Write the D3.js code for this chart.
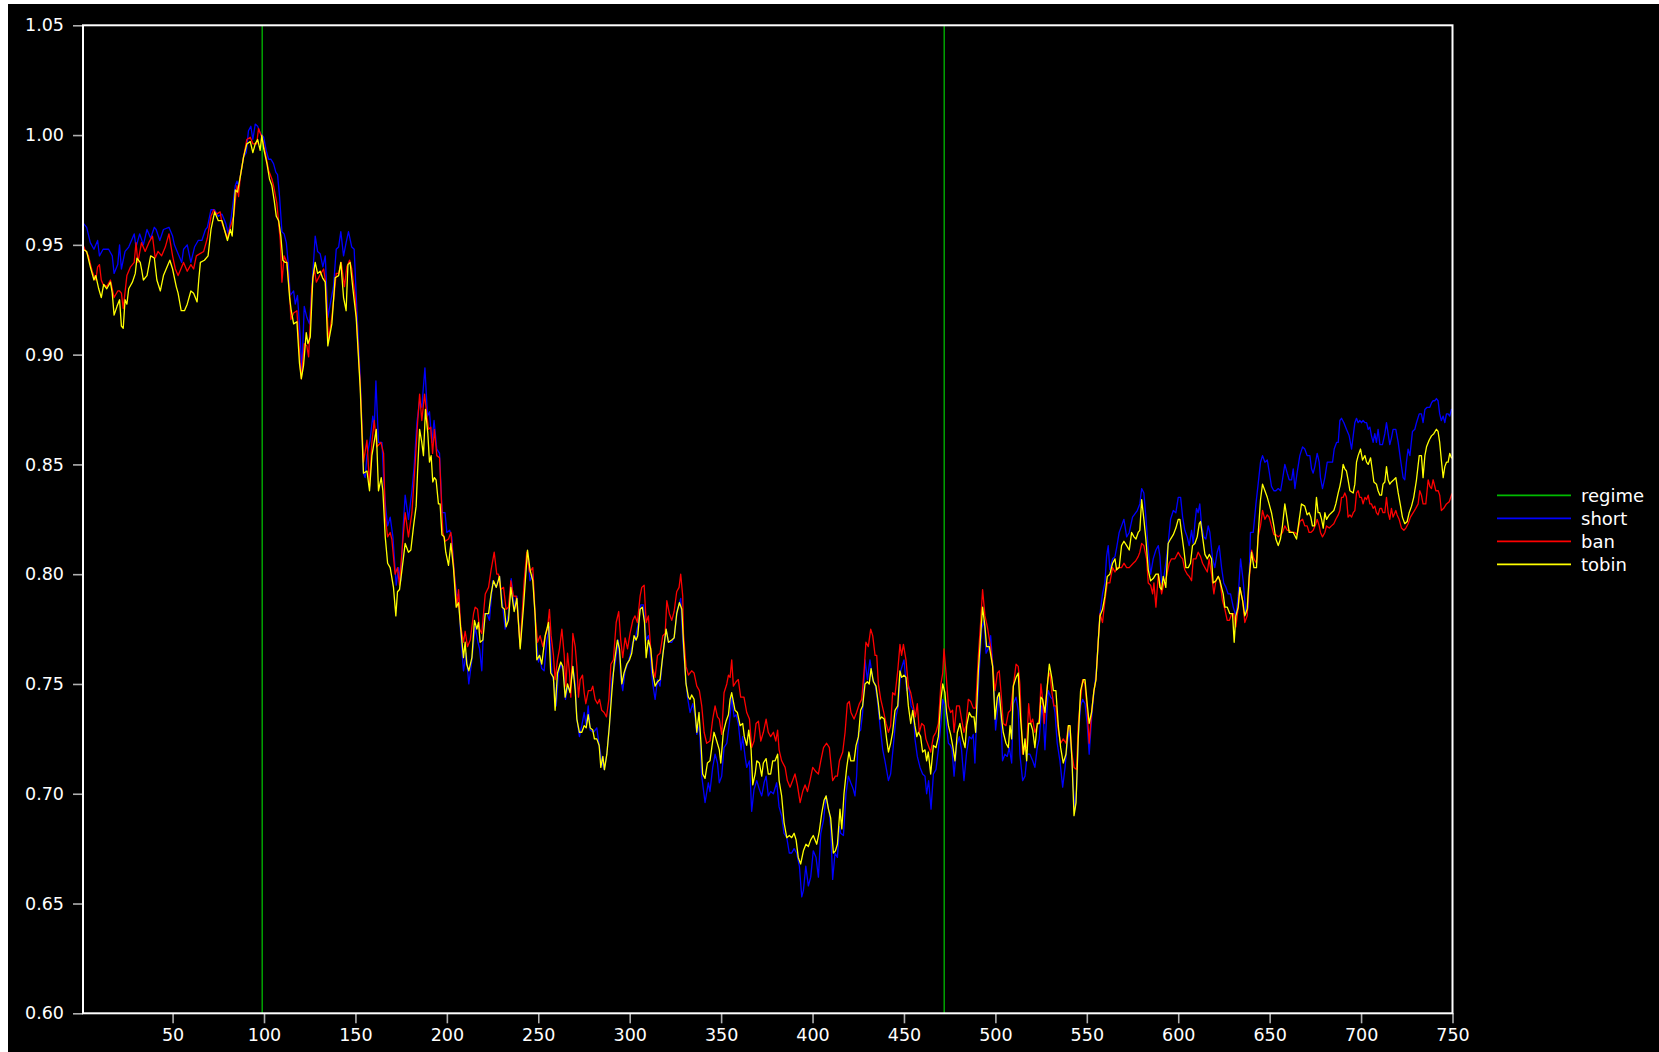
<!DOCTYPE html>
<html>
<head>
<meta charset="utf-8">
<script src="https://cdn.jsdelivr.net/npm/d3@7"></script>
<style>
  html, body { margin: 0; background: #fff; }
  svg { display: block; }
</style>
</head>
<body>
<svg id="chart" width="1659" height="1052"></svg>
<script>
// Regime switch points (time steps)
const regimeBreaks = [99, 472];

// Series: [time step, value]
const shortData = [[1,.960],[3,.958],[5,.951],[7,.948],[9,.952],[10,.945],[12,.948],[15,.948],[17,.945],[18,.937],[20,.941],[21,.950],[22,.939],[24,.947],[26,.949],[29,.955],[30,.949],[32,.955],[34,.950],[36,.957],[38,.953],[40,.958],[41,.957],[43,.952],[45,.957],[48,.958],[50,.954],[51,.950],[53,.946],[55,.942],[56,.948],[58,.950],[60,.942],[62,.949],[64,.952],[66,.952],[68,.957],[69,.958],[71,.966],[73,.966],[75,.963],[77,.964],[79,.960],[80.5,.955],[82,.962],[84.3,.977],[85.2,.979],[86.1,.977],[87,.981],[88.8,.990],[90.3,.992],[91.5,1.002],[92.8,1.004],[93.9,.998],[95.2,1.005],[96.5,1.004],[97.9,1.001],[99.8,.999],[101.2,.993],[102.5,.989],[103.8,.989],[105.2,.987],[106.5,.983],[107.4,.982],[108.5,.972],[109.8,.956],[111,.955],[112.2,.951],[113.4,.940],[114.3,.927],[116.2,.929],[117.1,.923],[118.3,.927],[119.8,.908],[120.7,.892],[122,.922],[123.4,.917],[124.9,.914],[126.2,.931],[128,.954],[129.3,.947],[130.7,.946],[132.2,.940],[133.5,.945],[134.9,.917],[136.2,.923],[138,.931],[139.5,.948],[140.8,.949],[142,.956],[143.5,.945],[144.9,.951],[146.2,.956],[148,.949],[149.3,.948],[150.8,.920],[152.6,.890],[154.4,.846],[155.3,.844],[156.3,.854],[158,.861],[159.5,.872],[160.3,.867],[161.2,.888],[162.6,.860],[164.5,.860],[165.4,.844],[166.3,.832],[167.6,.822],[169,.826],[170.5,.817],[172.3,.795],[173.6,.803],[174.8,.797],[176,.820],[177.2,.836],[179,.825],[180.9,.838],[182.1,.849],[183.6,.869],[185.1,.879],[186.3,.876],[188,.894],[189.4,.872],[190.5,.874],[191.8,.860],[193,.870],[194.5,.857],[196,.855],[197.4,.828],[199,.828],[200,.819],[201.5,.820],[202.7,.817],[204,.800],[205.5,.790],[206.4,.791],[207.3,.776],[209.1,.756],[210.6,.764],[212,.750],[213.7,.761],[215.5,.776],[217,.769],[217.9,.766],[219.1,.756],[220.4,.782],[222,.782],[223.3,.779],[225.1,.797],[227,.794],[228.8,.799],[230.6,.785],[231.9,.775],[233.7,.782],[235.2,.798],[237,.784],[238.3,.790],[240.1,.767],[242.3,.794],[244.1,.810],[245.5,.797],[247,.800],[248.8,.772],[250.1,.760],[250.7,.763],[251.9,.757],[253.2,.756],[254.7,.770],[256.1,.776],[257.4,.755],[258.7,.750],[259.8,.740],[261,.755],[262.3,.759],[263.8,.756],[264.9,.743],[266.1,.749],[267.4,.747],[268.9,.758],[270.2,.750],[271.1,.734],[272.5,.726],[273.8,.731],[275.1,.737],[276.2,.731],[277.3,.740],[278.4,.729],[280.2,.728],[282,.730],[283.3,.722],[284.7,.715],[286,.711],[287.5,.718],[288.9,.731],[290.2,.752],[292,.759],[293.8,.770],[295.1,.753],[296.2,.747],[297.5,.756],[298.8,.759],[300.2,.763],[301.7,.769],[302.9,.770],[304.8,.778],[306.1,.786],[307.5,.786],[309,.770],[310.2,.772],[311.5,.761],[312.6,.750],[313.9,.743],[315.2,.752],[316.6,.749],[318.1,.763],[319.9,.775],[321.2,.769],[323,.769],[324.3,.771],[326.1,.784],[327.9,.789],[329,.770],[330.3,.756],[331.6,.744],[333,.737],[334.5,.741],[335.8,.735],[336.7,.727],[338.1,.731],[339.4,.708],[341.2,.696],[343,.705],[343.9,.701],[345.4,.712],[346.7,.718],[348,.714],[349,.705],[350.3,.708],[351.6,.721],[353.1,.723],[354.5,.732],[355.8,.744],[357.1,.735],[358.2,.736],[359.4,.732],[360.9,.720],[361.8,.726],[363.1,.717],[364,.712],[365.5,.715],[366.7,.692],[368,.702],[369.5,.706],[370.9,.702],[372.2,.699],[373.5,.705],[374.6,.708],[375.8,.699],[377.1,.701],[378.6,.700],[380.4,.705],[381.7,.694],[383.1,.690],[384.4,.682],[385.9,.680],[387.3,.673],[388.6,.673],[389.9,.675],[391.3,.673],[392.8,.667],[394.1,.653],[395,.656],[396.3,.667],[397.7,.658],[399,.662],[400.4,.674],[401.9,.671],[403.2,.662],[404.5,.682],[406,.688],[407.4,.699],[409.2,.691],[409.9,.685],[411,.661],[412.3,.673],[413.6,.671],[414.7,.685],[415.4,.682],[416.9,.681],[418.3,.700],[419.6,.708],[420.9,.705],[422.3,.702],[423.2,.699],[424.1,.708],[425.1,.728],[426.3,.729],[427.4,.737],[428.7,.761],[430,.752],[431.4,.761],[432.9,.752],[434.2,.750],[435.4,.743],[436.9,.731],[438.4,.720],[439.6,.715],[441.5,.706],[442.7,.709],[444.2,.722],[445.6,.735],[446.9,.740],[448.2,.756],[449.3,.759],[450,.761],[451.5,.747],[452.6,.749],[453.9,.740],[455.1,.738],[456,.725],[457.3,.717],[458.8,.712],[460.2,.709],[461.5,.708],[462.4,.700],[463.5,.706],[464.8,.693],[466.1,.709],[467.5,.711],[468.8,.720],[470.2,.732],[471.2,.743],[472.4,.740],[473.3,.731],[474.3,.723],[475.5,.722],[476.3,.720],[477.4,.708],[478.8,.722],[480.3,.726],[481.5,.720],[482.8,.706],[484.3,.719],[485.7,.726],[487,.725],[487.9,.727],[488.8,.714],[489.8,.735],[491.2,.756],[492.5,.775],[493.8,.779],[494.9,.764],[496.1,.766],[497.4,.772],[498.9,.755],[500.1,.729],[501.1,.737],[502.1,.746],[503.1,.734],[503.9,.715],[505.2,.718],[506.5,.717],[507.6,.721],[508.9,.714],[509.8,.741],[511.3,.744],[512.5,.738],[513.4,.718],[514.9,.706],[516.2,.708],[517.4,.718],[518.9,.718],[520.4,.715],[521.6,.712],[522.9,.721],[524,.725],[525.3,.740],[526.2,.735],[527.1,.720],[528,.735],[528.9,.747],[530.2,.744],[531.3,.743],[532.6,.737],[533.8,.723],[535.3,.715],[536.8,.703],[538.1,.712],[539.3,.723],[540.4,.729],[541.7,.718],[542.6,.703],[543.5,.693],[544.4,.702],[545.5,.728],[546.6,.740],[547.7,.743],[549,.741],[550.2,.732],[551.3,.718],[552.6,.734],[553.9,.746],[555.4,.758],[556.3,.770],[557.2,.782],[558.6,.791],[559.9,.796],[560.8,.808],[561.7,.813],[562.6,.802],[564.1,.807],[565.4,.808],[566.3,.812],[567.7,.819],[569,.822],[570.3,.825],[571.8,.817],[573.2,.819],[575,.826],[577.6,.829],[579,.832],[580,.839],[581.2,.837],[582.3,.826],[583.6,.811],[584.9,.800],[586.3,.807],[587.8,.811],[589.1,.813],[590,.808],[590.9,.796],[592.2,.799],[593.2,.805],[594.5,.814],[595.8,.825],[597.3,.829],[598.7,.828],[600,.835],[601.3,.835],[602.4,.826],[603.6,.820],[604.9,.817],[606,.813],[607.3,.820],[608.2,.814],[609.1,.823],[610,.830],[610.9,.828],[611.8,.832],[612.8,.822],[614,.817],[615.1,.816],[616.4,.822],[617.3,.819],[618.8,.807],[620,.803],[621.3,.810],[622.4,.813],[623.7,.803],[624.9,.796],[626.1,.794],[627.3,.791],[628.6,.791],[630.1,.785],[631.5,.781],[632.8,.790],[634.1,.807],[635.5,.797],[637,.782],[638.3,.785],[639.5,.819],[641,.819],[642.5,.832],[643.7,.841],[645,.851],[646.1,.854],[647.4,.851],[648.7,.852],[649.7,.847],[651,.840],[652.3,.838],[653.4,.838],[654.7,.839],[656,.838],[657,.843],[658.3,.850],[659.6,.846],[660.7,.843],[662,.843],[662.9,.848],[663.8,.839],[665,.846],[666.5,.854],[668,.858],[669.2,.857],[670.5,.854],[672,.854],[672.9,.848],[673.8,.846],[674.7,.849],[676,.855],[677.1,.851],[677.8,.844],[678.9,.839],[680.2,.844],[681.5,.851],[682.9,.851],[684.4,.851],[685.3,.857],[686.6,.860],[687.5,.860],[688.4,.870],[689.3,.871],[690.6,.869],[692,.866],[693.5,.863],[694.8,.857],[695.7,.863],[696.6,.869],[697.5,.871],[698.4,.869],[699.3,.870],[700.2,.869],[701.1,.870],[702.1,.869],[703,.869],[703.9,.866],[704.8,.867],[705.7,.863],[706.6,.860],[707.5,.864],[708.4,.860],[709.3,.866],[710.3,.859],[711.7,.859],[713,.864],[713.9,.869],[714.8,.864],[715.7,.859],[716.6,.862],[717.5,.866],[719,.866],[720.3,.860],[721.6,.852],[723,.844],[723.9,.843],[724.8,.851],[725.7,.857],[726.7,.854],[728.1,.865],[729.4,.866],[730.3,.869],[731.8,.873],[733,.873],[733.9,.869],[734.9,.875],[736.1,.876],[737.6,.876],[738.5,.878],[739.4,.879],[740.3,.879],[741.2,.880],[742.1,.879],[743,.873],[743.9,.870],[744.9,.872],[745.8,.869],[746.7,.873],[747.6,.873],[748.5,.872],[749.4,.875],[750,.875]];

const banData = [[1,.950],[2,.948],[4,.945],[6,.938],[8,.934],[9,.940],[10,.941],[11,.934],[12,.932],[14,.931],[16,.934],[18,.926],[20,.929],[21,.929],[22,.928],[23,.921],[25,.936],[27,.940],[29,.942],[30,.951],[31,.942],[33,.951],[35,.947],[37,.951],[39,.954],[40.5,.944],[42,.947],[44,.945],[46,.949],[48,.955],[50,.945],[51.5,.939],[53,.936],[54,.938],[56,.942],[58,.938],[60,.941],[61.5,.939],[63,.945],[65,.946],[67,.947],[69,.953],[71,.963],[72.5,.966],[74,.964],[76,.965],[77,.960],[80,.953],[81.6,.958],[83.4,.963],[85.2,.977],[86.1,.972],[87,.981],[88.8,.990],[90.6,.998],[92.5,.999],[93.9,.996],[96,.996],[97,1.003],[98.8,.999],[100.7,.992],[102.5,.984],[104.3,.980],[105.2,.977],[107,.969],[108.9,.952],[109.8,.933],[111,.945],[112.5,.942],[114,.928],[114.7,.916],[116.2,.919],[118,.920],[119.8,.895],[120.4,.889],[122,.905],[123.4,.904],[124.4,.899],[126.2,.931],[127.5,.939],[128.6,.933],[130.4,.936],[132.6,.939],[133.5,.934],[135.3,.907],[137.1,.917],[139.5,.937],[140.8,.937],[142.2,.942],[144,.931],[145.3,.940],[146.8,.943],[148,.939],[149.9,.926],[152.6,.887],[154.4,.851],[156.3,.861],[157.7,.840],[159,.860],[160.3,.870],[161.7,.858],[163.9,.860],[165.4,.855],[166.3,.826],[167.6,.817],[169,.819],[169.9,.816],[171.7,.800],[173,.803],[174.1,.795],[175.4,.810],[177.2,.828],[179,.817],[180.9,.828],[182.7,.851],[184,.869],[185.1,.882],[186.3,.870],[187.8,.882],[189.1,.872],[190,.866],[191.2,.867],[192.2,.855],[193.2,.866],[194.5,.854],[196,.853],[196.7,.840],[197.8,.819],[199.1,.815],[200.9,.816],[202.2,.819],[203.3,.808],[204.5,.796],[205.5,.785],[206.4,.793],[207.6,.776],[209.1,.769],[210,.774],[211.3,.767],[212.8,.770],[214.6,.782],[215.5,.785],[216.8,.784],[217.9,.775],[219.1,.773],[221,.791],[222.8,.794],[224.2,.802],[225.9,.810],[227.3,.800],[228.2,.800],[229.5,.793],[231,.794],[232.4,.784],[233.7,.785],[235,.797],[236.4,.790],[237.9,.790],[238.8,.782],[240.1,.767],[242.3,.797],[243.7,.810],[245.2,.801],[247,.803],[248.3,.781],[249.6,.769],[251,.772],[252.5,.767],[253.8,.772],[255,.775],[256.1,.784],[257,.772],[258.3,.763],[259.2,.752],[260.5,.761],[261.6,.766],[262.9,.775],[264.2,.763],[265.1,.749],[266,.764],[267.1,.755],[267.8,.744],[268.9,.773],[270.2,.767],[271.1,.758],[272,.744],[272.9,.752],[274.2,.754],[275.1,.746],[276,.741],[277.4,.747],[278.9,.747],[279.8,.749],[281.1,.743],[282.4,.741],[283.5,.743],[284.7,.738],[286,.737],[287.3,.735],[288.6,.743],[289.7,.759],[291.1,.761],[292.6,.778],[294,.783],[295.1,.770],[296.2,.762],[297.5,.771],[298.8,.766],[300.2,.773],[301.7,.779],[302.9,.781],[304.2,.778],[305.7,.790],[306.6,.794],[307.9,.795],[309,.778],[310.2,.781],[311.5,.766],[312.6,.757],[313.9,.753],[315.2,.763],[316.6,.764],[318.1,.772],[319.4,.773],[320.3,.788],[321.7,.782],[323,.779],[324.3,.783],[325.7,.792],[327,.794],[327.9,.800],[329,.790],[329.4,.773],[330.8,.758],[332.1,.754],[333.9,.756],[335.2,.755],[336.7,.749],[338.1,.747],[339.4,.740],[340.7,.728],[342.1,.723],[343.9,.724],[345.4,.734],[346.7,.740],[348,.735],[349,.734],[350.3,.727],[351.6,.746],[353.1,.750],[354,.754],[354.9,.753],[355.8,.761],[356.7,.749],[358.2,.751],[359.4,.752],[360.7,.744],[362.5,.744],[364,.737],[365.5,.734],[366.7,.721],[368,.724],[369.1,.732],[370.4,.733],[371.7,.724],[373.1,.728],[374.6,.734],[375.8,.728],[377.1,.726],[378.6,.728],[379.9,.724],[380.9,.729],[381.7,.720],[383.1,.715],[385,.712],[386.2,.706],[387.7,.703],[389.1,.706],[390.4,.709],[391.7,.704],[393.2,.696],[394.6,.701],[395.9,.704],[397.2,.701],[398.6,.706],[400.1,.712],[401.9,.710],[403.2,.709],[404.5,.715],[406,.721],[407.7,.723],[409.2,.721],[409.9,.715],[411,.706],[412.5,.708],[413.6,.708],[414.7,.715],[416.5,.719],[417.8,.728],[419,.741],[420.1,.742],[421,.737],[422.7,.734],[424.1,.737],[425.6,.741],[426.9,.743],[428.2,.756],[429.2,.769],[430.5,.767],[431.8,.775],[432.9,.772],[434.2,.763],[435.1,.763],[436,.750],[437.3,.743],[438.7,.738],[440.2,.732],[441.5,.728],[442.7,.731],[443.8,.746],[445.1,.745],[446.6,.756],[447.8,.768],[448.7,.763],[449.7,.768],[451.1,.761],[452.4,.749],[453.7,.746],[455.1,.740],[456.2,.735],[457.3,.741],[458.4,.728],[459.7,.732],[461,.731],[462,.725],[463.3,.722],[464.6,.719],[466.1,.726],[467.5,.728],[468.8,.732],[470.2,.750],[471.2,.755],[471.9,.766],[473,.755],[474.3,.740],[475.5,.737],[476.6,.738],[477.4,.728],[478.8,.740],[480.3,.740],[481.5,.734],[482.8,.728],[483.9,.731],[485.2,.743],[486.5,.742],[487.9,.739],[489.2,.739],[490.7,.763],[492,.779],[493,.793],[494.3,.781],[495.6,.776],[497.4,.767],[498.9,.755],[499.8,.747],[501.1,.755],[502.1,.756],[503.1,.746],[504.3,.732],[505.8,.731],[507.1,.737],[508.3,.738],[509.8,.749],[511.3,.759],[512.5,.758],[513.4,.750],[514.9,.718],[516.2,.721],[517.1,.721],[518.2,.741],[519.3,.732],[520.4,.734],[521.6,.728],[522.9,.731],[524,.734],[524.9,.750],[525.8,.743],[526.7,.732],[528,.746],[528.9,.753],[529.8,.755],[530.8,.747],[532,.740],[533.1,.740],[534.4,.729],[535.7,.723],[537.1,.725],[538.6,.723],[539.9,.731],[540.8,.731],[541.9,.718],[543,.712],[544.4,.711],[545.3,.731],[546.2,.740],[547.7,.752],[549,.750],[550.2,.738],[551.3,.723],[552.6,.737],[553.9,.747],[555,.752],[556.3,.770],[557.2,.782],[558.6,.778],[559.9,.788],[561.2,.796],[562.6,.796],[564.1,.803],[565.4,.801],[566.6,.803],[567.7,.803],[569,.803],[570.3,.805],[571.8,.803],[573.2,.803],[575.4,.805],[576.7,.806],[578.1,.808],[579,.810],[580,.814],[581.2,.813],[582.7,.807],[583.6,.796],[584.9,.795],[586,.791],[586.7,.796],[587.8,.785],[589.1,.800],[590,.796],[590.9,.791],[592.2,.796],[593.6,.799],[595.1,.805],[596.3,.807],[598.2,.807],[600,.810],[601.3,.808],[602.4,.807],[603.6,.802],[604.9,.800],[606,.799],[607.3,.797],[608.2,.807],[609.7,.807],[610.9,.810],[612.2,.808],[613.3,.805],[614.6,.803],[615.9,.801],[616.9,.807],[618.2,.800],[619.5,.791],[620.6,.797],[621.9,.799],[622.8,.797],[624.2,.788],[625.5,.784],[626.8,.779],[628,.779],[629.2,.782],[630.4,.782],[631.5,.776],[632.8,.785],[633.7,.794],[635.2,.788],[636.4,.778],[637.7,.781],[638.8,.797],[640.1,.811],[641.4,.807],[642.8,.805],[643.7,.817],[645,.822],[646.1,.829],[647.4,.825],[648.7,.827],[649.7,.826],[651,.822],[652.3,.818],[653.4,.818],[654.7,.817],[656,.818],[657,.819],[658.3,.822],[659.6,.820],[660.7,.820],[662,.819],[663.8,.819],[665,.818],[666.5,.824],[668,.825],[669.2,.822],[670.5,.822],[671.6,.819],[672.5,.819],[673.8,.820],[675.3,.823],[676,.825],[677.1,.822],[677.8,.819],[678.9,.817],[680.2,.819],[681.1,.822],[682.6,.821],[683.8,.822],[685.1,.823],[686.2,.825],[687.5,.827],[688.4,.829],[689.3,.835],[690.2,.835],[691.1,.837],[692,.835],[692.9,.826],[693.9,.827],[694.8,.826],[695.7,.828],[696.6,.829],[697.5,.837],[698.4,.838],[699.3,.835],[700.2,.835],[701.1,.832],[702.1,.835],[703,.834],[703.9,.836],[704.8,.832],[705.7,.832],[706.6,.830],[707.5,.831],[708.4,.828],[709.3,.827],[710.3,.830],[711.2,.830],[712,.828],[713,.828],[713.9,.835],[714.8,.828],[715.7,.825],[716.6,.830],[717.5,.826],[719,.829],[719.7,.827],[720.8,.825],[722.1,.821],[723.4,.820],[724.5,.821],[725.7,.823],[727,.826],[728.5,.828],[729.9,.830],[731.2,.832],[732.1,.838],[733,.836],[733.9,.832],[735.4,.832],[736.7,.843],[737.6,.840],[738.5,.839],[739.4,.843],[740.9,.838],[742.2,.838],[743,.836],[743.9,.829],[745.2,.830],[746.7,.832],[748.2,.833],[749.4,.836],[750,.837]];

const tobinData = [[1,.948],[3,.947],[5,.940],[7,.934],[8,.936],[9.6,.930],[11,.926],[12.3,.932],[14,.930],[16,.933],[17,.928],[18,.918],[19.6,.922],[21,.925],[22,.913],[23,.912],[24,.925],[25,.923],[26,.930],[28,.933],[29.6,.937],[30.5,.944],[32.3,.942],[33,.939],[34,.934],[36,.936],[38,.945],[40,.944],[41.4,.934],[43.3,.929],[45,.936],[47,.940],[48.5,.943],[50,.939],[52,.931],[53,.928],[54.7,.920],[56.5,.920],[58,.923],[60,.929],[61.5,.928],[63.4,.924],[64.3,.934],[65.2,.942],[67.4,.943],[69.4,.945],[71,.957],[73,.965],[75,.961],[77,.961],[80,.952],[81.6,.957],[82.6,.954],[84.3,.975],[85.5,.974],[87,.981],[88.8,.990],[90.6,.996],[92.5,.997],[93.9,.992],[95.2,.996],[96.5,.998],[97.9,.993],[98.8,1.000],[99.8,.994],[101.6,.987],[103,.980],[104.3,.977],[105.6,.970],[106.7,.963],[108,.961],[109.2,.954],[110.3,.943],[111.6,.942],[112.5,.942],[114,.926],[114.9,.920],[116.2,.914],[118,.915],[119.4,.896],[120.4,.889],[121.6,.895],[123.1,.910],[124,.905],[125.3,.908],[126.7,.935],[128,.942],[129.3,.937],[130.7,.938],[132,.935],[133.5,.933],[134.9,.904],[137.1,.914],[138.9,.935],[140.8,.936],[142,.942],[143.5,.926],[144.9,.920],[145.9,.941],[147.1,.942],[148.6,.930],[150.4,.917],[152.6,.885],[154.4,.846],[156.3,.847],[157.7,.838],[159,.854],[161.4,.866],[162.6,.838],[164.1,.844],[165,.838],[166.3,.817],[167.6,.805],[169,.803],[170.8,.794],[172.1,.781],[173,.792],[174.1,.793],[175.6,.803],[177.2,.814],[179,.810],[180.3,.811],[181.8,.822],[183.2,.831],[184,.847],[185.1,.866],[186.3,.860],[187.2,.854],[188.3,.875],[189.6,.864],[190.5,.851],[191.4,.854],[192.3,.842],[193.2,.844],[194.1,.843],[195.4,.832],[196.3,.832],[197.3,.818],[198.5,.817],[199.4,.810],[200.9,.804],[202.2,.814],[203.6,.803],[205.1,.785],[206.4,.787],[207.6,.775],[209.1,.762],[210,.769],[210.9,.759],[212,.756],[213.7,.762],[215.1,.779],[216.4,.775],[217.3,.778],[218.2,.769],[219.7,.770],[221,.782],[222.8,.782],[224.2,.791],[225.5,.797],[227,.794],[228.8,.799],[230.2,.785],[231.5,.784],[232.4,.776],[233.7,.779],[235,.794],[236.8,.783],[238.3,.789],[240.1,.766],[241.9,.785],[244.1,.811],[245.5,.802],[247,.797],[248.3,.781],[249.2,.761],[250.7,.763],[251.9,.759],[253.8,.772],[255.6,.778],[256.8,.755],[258.3,.753],[259.2,.738],[260.5,.755],[262.3,.760],[263.4,.758],[264.7,.744],[266,.750],[267.4,.746],[268.9,.758],[270.2,.747],[271.1,.734],[272.5,.728],[273.8,.728],[275.1,.731],[276.2,.730],[277.3,.736],[278.4,.730],[279.8,.729],[280.7,.725],[282,.725],[283.3,.722],[284.2,.712],[285.3,.717],[286.2,.711],[287.5,.718],[288.9,.731],[290.2,.746],[291.5,.759],[293.3,.770],[294.4,.766],[295.7,.750],[296.9,.755],[298.4,.759],[299.9,.761],[301.1,.764],[302.4,.772],[303.5,.770],[304.4,.772],[305.7,.784],[306.9,.785],[308.1,.778],[309,.762],[310.2,.770],[311.5,.766],[312.6,.755],[313.9,.749],[315.2,.751],[316.6,.752],[318.1,.763],[319.9,.775],[321.2,.769],[323,.770],[324.3,.771],[325.7,.782],[327.2,.787],[328.5,.784],[329.4,.769],[330.8,.750],[332.1,.744],[333,.743],[333.9,.745],[335.2,.743],[336.7,.728],[337.9,.737],[338.9,.724],[339.9,.709],[341.2,.707],[342.5,.714],[343.9,.715],[344.9,.721],[346.1,.728],[347.6,.724],[349,.720],[349.8,.714],[351.2,.728],[352.7,.733],[354,.736],[354.9,.743],[355.8,.746],[356.7,.742],[357.6,.738],[358.9,.737],[360.4,.731],[361.8,.732],[362.7,.726],[364,.722],[365.1,.729],[366.4,.720],[367.3,.704],[368.6,.709],[369.5,.715],[370.9,.714],[372.2,.708],[373.1,.714],[374.6,.716],[375.8,.709],[377.1,.709],[378.2,.715],[379.5,.715],[380.9,.718],[381.7,.706],[383.1,.699],[384.4,.687],[385.9,.680],[387.3,.681],[388.6,.680],[389.9,.682],[391,.679],[392.2,.671],[393.5,.668],[395,.674],[396.4,.677],[397.7,.676],[399,.679],[400.4,.681],[402.3,.677],[403.7,.683],[405,.691],[406.3,.697],[407.4,.699],[408.7,.693],[409.9,.689],[411.4,.673],[412.5,.674],[413.6,.677],[415,.693],[416,.684],[417.2,.700],[418.7,.712],[419.9,.719],[420.9,.715],[422.7,.715],[423.8,.722],[425.1,.726],[426.3,.738],[427.4,.740],[428.7,.750],[430,.751],[431,.750],[432,.757],[433.3,.751],[434.7,.749],[436,.741],[436.9,.734],[437.8,.735],[439.2,.734],[440.5,.725],[441.5,.719],[442.7,.723],[443.8,.728],[445.1,.738],[446.6,.740],[447.8,.756],[448.7,.753],[450,.754],[451.1,.753],[452.4,.740],[453.7,.732],[454.8,.738],[456,.731],[457,.726],[457.9,.728],[459.1,.726],[460.2,.719],[461.5,.720],[462.4,.715],[463.3,.719],[464.6,.709],[466.1,.722],[467.5,.721],[468.8,.726],[470.2,.743],[471.2,.750],[472.4,.746],[473.3,.737],[474.3,.731],[475.5,.727],[476.6,.722],[477.9,.715],[479.2,.728],[480.6,.732],[482.1,.725],[483.4,.721],[484.3,.731],[485.7,.737],[487,.735],[488.3,.735],[489.2,.728],[490.7,.756],[492,.773],[493,.785],[494.3,.776],[495.2,.767],[496.7,.767],[498.5,.758],[499.8,.734],[501.1,.744],[502.1,.746],[503.4,.734],[504.3,.728],[505.8,.723],[507.1,.721],[508,.731],[508.9,.725],[509.8,.749],[511.3,.753],[512.5,.755],[513.8,.734],[515.3,.718],[516.2,.725],[517.1,.715],[518.2,.732],[519.3,.732],[520.4,.729],[521.6,.721],[522.9,.732],[524,.732],[524.9,.744],[525.8,.743],[527.1,.737],[528.4,.749],[529.5,.759],[530.8,.753],[531.7,.747],[533.1,.747],[534.4,.731],[535.7,.721],[537.1,.714],[538.6,.718],[539.9,.731],[540.8,.731],[541.9,.715],[543,.690],[544.1,.696],[545.3,.725],[546.6,.747],[548.1,.752],[549,.752],[550.2,.741],[551.3,.732],[552.6,.737],[553.9,.747],[555,.752],[556.3,.770],[557.2,.781],[558.6,.784],[559.9,.790],[561.2,.799],[562.6,.800],[564.1,.805],[565.4,.807],[566.3,.802],[567.7,.803],[569,.813],[570.3,.815],[571.8,.813],[573.2,.811],[574.5,.819],[575.8,.817],[576.9,.816],[578.1,.819],[579,.820],[580,.834],[581.2,.825],[582.3,.816],[583.6,.802],[584.9,.797],[586.3,.798],[587.8,.800],[589.1,.800],[590,.794],[590.9,.793],[591.8,.799],[593.2,.794],[594.5,.814],[595.8,.816],[597.3,.818],[598.7,.821],[600,.825],[600.9,.825],[601.8,.819],[603.1,.811],[604.2,.803],[605.5,.803],[606.7,.805],[607.8,.813],[609.1,.814],[610.4,.817],[611.5,.823],[612.2,.824],[613.3,.817],[614.6,.809],[615.9,.807],[617,.809],[618.2,.807],[619.1,.796],[620.6,.797],[621.9,.799],[622.8,.797],[623.7,.794],[624.6,.791],[625.5,.785],[626.8,.785],[628.2,.782],[629.7,.782],[630.6,.769],[631.5,.781],[632.8,.785],[633.7,.794],[635.2,.788],[636.4,.781],[637.7,.784],[638.8,.799],[640.1,.810],[641.4,.803],[642.8,.803],[643.7,.818],[645,.834],[646.1,.841],[647.4,.838],[648.7,.835],[649.7,.832],[651,.828],[652.3,.822],[653.4,.816],[654.7,.813],[655.9,.816],[657,.822],[658.3,.832],[659.6,.825],[660.7,.819],[662.9,.819],[664.7,.816],[666.2,.825],[667.4,.832],[669.2,.831],[670.5,.827],[671.6,.828],[672.5,.826],[673.4,.822],[674.5,.822],[675.6,.835],[676.5,.828],[677.4,.828],[678.4,.825],[679.3,.821],[680.2,.828],[681.1,.825],[682.6,.827],[683.8,.828],[685.1,.829],[686.2,.832],[687.5,.837],[688.4,.840],[689.3,.844],[690.2,.850],[691.1,.848],[692,.847],[692.9,.843],[693.9,.838],[695.7,.837],[696.6,.841],[697.5,.851],[698.4,.854],[699.7,.857],[700.8,.852],[702.1,.854],[703,.851],[703.9,.850],[705.2,.853],[706.2,.847],[707,.842],[708.4,.841],[709.3,.838],[710.3,.836],[711.2,.836],[712,.841],[713,.842],[713.9,.849],[714.8,.843],[715.7,.841],[716.6,.842],[717.9,.843],[719,.844],[720.3,.837],[721.6,.831],[722.6,.826],[723.9,.823],[725.2,.824],[726.3,.828],[727.6,.831],[728.8,.835],[730.3,.843],[731.8,.854],[733,.854],[733.9,.844],[734.9,.854],[735.8,.858],[737.2,.861],[738.5,.863],[739.8,.864],[741.2,.866],[742.1,.865],[743,.860],[743.9,.852],[744.9,.844],[745.8,.849],[746.7,.851],[747.6,.851],[748.5,.855],[749.4,.853],[750,.853]];

// Legend entries and plot order
const seriesNames = ["regime", "short", "ban", "tobin"];
const seriesColors = ["#00bb00", "#0000ff", "#ff0000", "#ffff00"];

// Axis ticks
const xTicks = [50, 100, 150, 200, 250, 300, 350, 400, 450, 500, 550, 600, 650, 700, 750];
const yTicks = [0.60, 0.65, 0.70, 0.75, 0.80, 0.85, 0.90, 0.95, 1.00, 1.05];

const FONT = "'DejaVu Sans', sans-serif";
const svg = d3.select("#chart");

// Figure background (white strip on the left and top edges)
svg.append("rect")
  .attr("x", 8).attr("y", 4)
  .attr("width", 1659 - 8).attr("height", 1052 - 4)
  .attr("fill", "#000");

const plot = { left: 83, right: 1452.5, top: 25.3, bottom: 1013.3 };

const x = d3.scaleLinear().domain([1, 750]).range([plot.left, plot.right]);
const y = d3.scaleLinear().domain([0.60, 1.05]).range([plot.bottom, plot.top]);

// Axes
const xAxis = d3.axisBottom(x).tickValues(xTicks).tickSize(10).tickPadding(5.5)
  .tickFormat(d3.format("d"));
const yAxis = d3.axisLeft(y).tickValues(yTicks).tickSize(10).tickPadding(9)
  .tickFormat(d3.format(".2f"));

function styleAxis(g) {
  g.select(".domain").remove();
  g.selectAll(".tick line").attr("stroke", "#b0b0b0").attr("stroke-width", 1.6);
  g.selectAll(".tick text")
    .attr("fill", "#ffffff")
    .style("font-family", FONT)
    .style("font-size", "17.5px");
}

svg.append("g").attr("transform", `translate(0,${plot.bottom})`).call(xAxis).call(styleAxis);
svg.append("g").attr("transform", `translate(${plot.left},0)`).call(yAxis).call(styleAxis);

// Regime switch markers
svg.append("g").selectAll("line").data(regimeBreaks).join("line")
  .attr("x1", d => x(d)).attr("x2", d => x(d))
  .attr("y1", plot.top).attr("y2", plot.bottom)
  .attr("stroke", seriesColors[0]).attr("stroke-width", 1.3);

// Series lines
const line = d3.line().x(d => x(d[0])).y(d => y(d[1]));
const seriesData = [shortData, banData, tobinData];
svg.append("g").selectAll("path").data(seriesData).join("path")
  .attr("d", line)
  .attr("fill", "none")
  .attr("stroke", (d, i) => seriesColors[i + 1])
  .attr("stroke-width", 1.3)
  .attr("stroke-linejoin", "round");

// Frame
svg.append("rect")
  .attr("x", plot.left).attr("y", plot.top)
  .attr("width", plot.right - plot.left).attr("height", plot.bottom - plot.top)
  .attr("fill", "none").attr("stroke", "#ffffff").attr("stroke-width", 2);

// Legend
const legend = svg.append("g").attr("transform", "translate(1497,495.3)");
const rows = legend.selectAll("g").data(seriesNames).join("g")
  .attr("transform", (d, i) => `translate(0,${i * 23})`);
rows.append("line")
  .attr("x1", 0).attr("x2", 74).attr("y1", 0).attr("y2", 0)
  .attr("stroke", (d, i) => seriesColors[i]).attr("stroke-width", 1.8);
rows.append("text")
  .attr("x", 84).attr("y", 6.5)
  .attr("fill", "#ffffff")
  .style("font-family", FONT)
  .style("font-size", "18px")
  .text(d => d);
</script>
</body>
</html>
